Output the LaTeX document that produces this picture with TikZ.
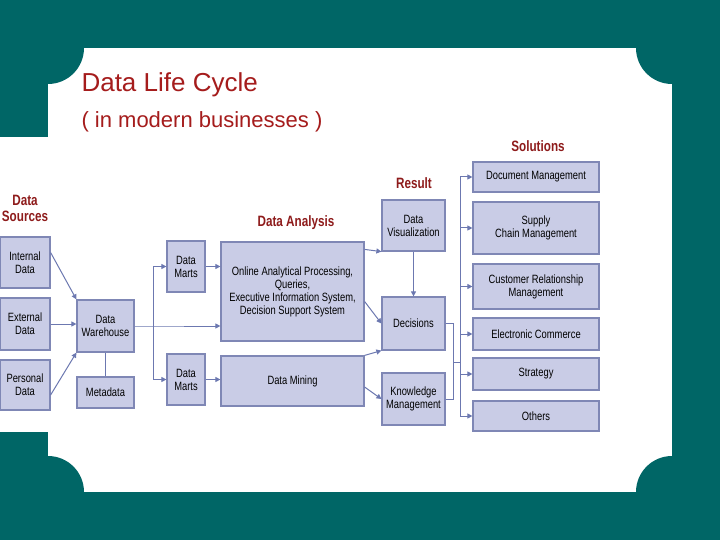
\documentclass[tikz,border=0pt]{standalone}
\usepackage{fontspec}
\setmainfont{Liberation Sans}
\newfontfamily\condfont[FakeStretch=0.78]{Liberation Sans}
\usetikzlibrary{positioning,arrows.meta}
\definecolor{teal}{HTML}{006666}
\definecolor{boxfill}{HTML}{C9CCE6}
\definecolor{boxline}{HTML}{7F87B5}
\definecolor{arrowcol}{HTML}{6C78B0}
\definecolor{headred}{HTML}{8E1B1B}
\definecolor{titlered}{HTML}{A51C1C}
\tikzset{
  box/.style={draw=boxline,line width=1.2pt,fill=boxfill,align=center,
    font=\condfont\fontsize{12}{13}\selectfont,inner sep=1pt},
  head/.style={text=headred,font=\condfont\bfseries\fontsize{15}{16}\selectfont,align=center},
  flow/.style={draw=arrowcol,line width=1pt,-{Triangle[length=5pt,width=5pt]}},
  link/.style={draw=arrowcol,line width=1pt}
}
\newcommand{\boxat}[4]{\node[box,minimum width=#3-#1,minimum height=#4-#2] at ({(#1+#3)/2},{(#2+#4)/2})}
\begin{document}
\begin{tikzpicture}[x=1pt,y=-1pt]
\useasboundingbox (0,0) rectangle (720,540);
% background and card
\fill[teal] (0,0) rectangle (720,540);
\fill[white] (48,48) rectangle (672,492);
\fill[white] (0,137) rectangle (48,432);
\foreach \cx/\cy in {48/48,672/48,48/492,672/492}
  \fill[teal] (\cx,\cy) circle (36);
\node[anchor=base west,text=titlered,font=\fontsize{26}{28}\selectfont] (title) at (78,92) {Data Life Cycle};
\node[anchor=base west,text=titlered,font=\fontsize{22}{24}\selectfont] (subtitle) at (78,128) {( in modern businesses )};
% headings
\node[head] (hsrc) at (25,208) {Data\\Sources};
\node[head] (hana) at (296,223) {Data Analysis};
\node[head] (hres) at (414,183) {Result};
\node[head] (hsol) at (538,146) {Solutions};
% boxes
\boxat{0}{237}{50}{288} (internal) {Internal\\Data};
\boxat{0}{298}{50}{350} (external) {External\\Data};
\boxat{0}{360}{50}{410} (personal) {Personal\\Data};
\boxat{77}{300}{134}{352} (warehouse) {Data\\Warehouse};
\boxat{77}{377}{134}{408} (metadata) {Metadata};
\boxat{167}{241}{205}{292} (martsA) {Data\\Marts};
\boxat{167}{354}{205}{405} (martsB) {Data\\Marts};
\boxat{221}{242}{364}{341} (olap) {Online Analytical Processing,\\Queries,\\Executive Information System,\\Decision Support System};
\boxat{221}{356}{364}{406} (mining) {Data Mining};
\boxat{382}{200}{445}{251} (visual) {Data\\Visualization};
\boxat{382}{297}{445}{350} (decisions) {Decisions};
\boxat{382}{373}{445}{425} (knowledge) {Knowledge\\Management};
\boxat{473}{162}{599}{192} (docmgmt) {Document Management};
\boxat{473}{202}{599}{254} (supply) {Supply\\Chain Management};
\boxat{473}{264}{599}{309} (crm) {Customer Relationship\\Management};
\boxat{473}{318}{599}{350} (ecom) {Electronic Commerce};
\boxat{473}{358}{599}{390} (strategy) {Strategy};
\boxat{473}{401}{599}{431} (others) {Others};
% connectors
\coordinate (split) at (153,326);
\coordinate (join) at (453,362);
\coordinate (busTop) at (460,177);
\coordinate (busBot) at (460,416);
\draw[flow] (internal.east) ++(0,-10) -- (warehouse.north west);
\draw[flow] (external) -- (external -| warehouse.west);
\draw[flow] (personal.east) ++(0,10) -- (warehouse.south west);
\draw[link] (warehouse) -- (metadata);
\draw[flow] (warehouse.east) -- (split) -- (split -| olap.west);
\draw[flow] (split) |- (martsA.west);
\draw[flow] (split) |- (martsB.west);
\draw[flow] (martsA) -- (martsA -| olap.west);
\draw[flow] (martsB) -- (martsB -| mining.west);
\draw[flow] (olap.north east) ++(0,8) -- (visual.south west);
\draw[flow] (olap.east) ++(0,10) -- (decisions.west);
\draw[flow] (mining.north east) -- (decisions.south west);
\draw[flow] (mining.east) ++(0,6) -- (knowledge.west);
\draw[flow] (visual) -- (decisions);
\draw[link] (decisions.east) -| (join) -- (join -| busTop);
\draw[link] (knowledge.east) -| (join);
\draw[link] (busTop) -- (busBot);
\foreach \sol in {docmgmt,supply,crm,ecom,strategy,others}
  \draw[flow] (busTop |- \sol) -- (\sol.west);
\end{tikzpicture}
\end{document}
